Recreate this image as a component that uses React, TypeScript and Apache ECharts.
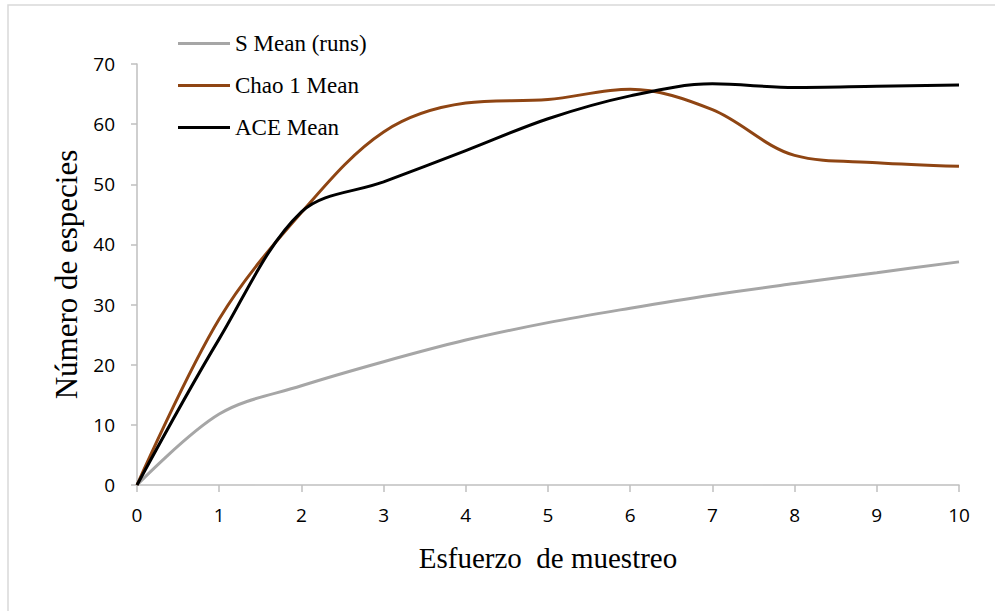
import React, { useEffect, useRef } from "react";
import * as echarts from "echarts";

const xValues = [0, 1, 2, 3, 4, 5, 6, 7, 8, 9, 10];
const sMean = [0, 11.8, 16.5, 20.5, 24.1, 27.0, 29.4, 31.6, 33.5, 35.3, 37.1];
const chao1Mean = [0, 27.6, 45.3, 58.7, 63.5, 64.1, 65.8, 62.4, 54.8, 53.6, 53.0];
const aceMean = [0, 24.3, 45.4, 50.4, 55.6, 60.9, 64.7, 66.7, 66.1, 66.3, 66.5];
const seriesNames = ["S Mean (runs)", "Chao 1 Mean", "ACE Mean"];
const seriesColors = ["#a6a6a6", "#8f4513", "#000000"];

export default function App() {
  const ref = useRef<HTMLDivElement>(null);
  useEffect(() => {
    if (!ref.current) return;
    const chart = echarts.init(ref.current, null, { renderer: "svg" });
    const allSeries = [sMean, chao1Mean, aceMean];
    chart.setOption({
      animation: false,
      backgroundColor: "#ffffff",
      graphic: [
        {
          type: "rect",
          shape: { x: 8, y: 5, width: 1000, height: 700 },
          style: { fill: "none", stroke: "#d9d9d9", lineWidth: 1.5 },
          z: -1,
        },
      ],
      grid: { left: 137, right: 36, top: 64, bottom: 126, containLabel: false },
      legend: {
        orient: "vertical",
        left: 173,
        top: 27,
        icon: "rect",
        itemWidth: 52,
        itemHeight: 3,
        itemGap: 19,
        data: seriesNames,
        textStyle: {
          fontFamily: "Liberation Serif",
          fontSize: 23,
          lineHeight: 23,
          color: "#000",
        },
      },
      xAxis: {
        type: "value",
        min: 0,
        max: 10,
        interval: 1,
        name: "Esfuerzo  de muestreo",
        nameLocation: "middle",
        nameGap: 58,
        nameTextStyle: {
          fontFamily: "Liberation Serif",
          fontSize: 29,
          color: "#000",
        },
        axisLine: { show: true, lineStyle: { color: "#bfbfbf", width: 1.5 } },
        axisTick: { show: true, length: 7, lineStyle: { color: "#bfbfbf", width: 1.5 } },
        axisLabel: {
          margin: 20,
          fontFamily: "Open Sans",
          fontSize: 19,
          color: "#000",
        },
        splitLine: { show: false },
      },
      yAxis: {
        type: "value",
        min: 0,
        max: 70,
        interval: 10,
        name: "Número de especies",
        nameLocation: "middle",
        nameGap: 53,
        nameTextStyle: {
          fontFamily: "Liberation Serif",
          fontSize: 31,
          color: "#000",
        },
        axisLine: { show: true, lineStyle: { color: "#bfbfbf", width: 1.5 } },
        axisTick: { show: true, length: 6, lineStyle: { color: "#bfbfbf", width: 1.5 } },
        axisLabel: {
          margin: 22,
          fontFamily: "Open Sans",
          fontSize: 19,
          color: "#000",
        },
        splitLine: { show: false },
      },
      series: allSeries.map((vals, i) => ({
        name: seriesNames[i],
        type: "line",
        data: xValues.map((x, j) => [x, vals[j]]),
        smooth: 0.34,
        showSymbol: false,
        symbol: "none",
        color: seriesColors[i],
        lineStyle: { color: seriesColors[i], width: 3 },
        itemStyle: { color: seriesColors[i] },
        z: 2 + i,
      })),
    });
    return () => chart.dispose();
  }, []);
  return (
    <div
      ref={ref}
      style={{ position: "fixed", left: 0, top: 0, width: 995, height: 611 }}
    />
  );
}
